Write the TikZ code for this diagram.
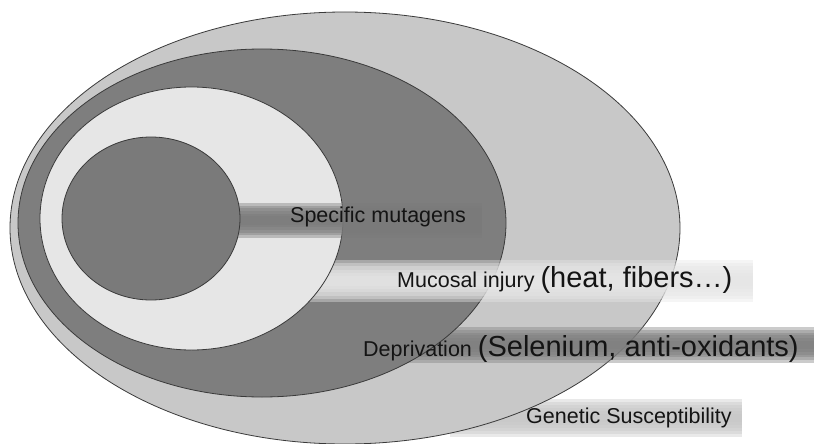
\documentclass[tikz,border=0pt]{standalone}
\usepackage{fontspec}
\setmainfont{Liberation Sans}
\definecolor{outerc}{HTML}{C8C8C8}
\definecolor{darkc}{HTML}{7E7E7E}
\definecolor{lightc}{HTML}{E6E6E6}
\definecolor{innerc}{HTML}{7A7A7A}
\definecolor{edgec}{HTML}{3A3A3A}
\definecolor{txtc}{HTML}{141414}
\newcommand\bandstrip[5]{%
  \foreach \k in {0,...,5}{%
    \pgfmathsetmacro\ins{(#4-#3)*\k/13}%
    \fill[#5, opacity=0.4] ({#1},{#3+\ins}) rectangle ({#2},{#4-\ins});%
  }}
\tikzset{
  ring/.style={draw=edgec, line width=0.8pt},
  lbl/.style={anchor=base west, inner sep=0pt, text=txtc},
  smallf/.style={font=\fontsize{21.5}{24}\selectfont},
}
\newcommand\bigtxt[1]{{\fontsize{29}{32}\selectfont #1}}
\begin{document}
\begin{tikzpicture}[x=1pt,y=-1pt]
\useasboundingbox (0,0) rectangle (814,444);
\fill[white] (0,0) rectangle (814,444);
% genetic band and outer ellipse
\bandstrip{450}{742}{399}{437}{outerc}
\filldraw[ring, fill=outerc] (345,228) ellipse [x radius=335, y radius=216];
% deprivation band and dark ellipse
\bandstrip{400}{814}{327}{363}{darkc}
\filldraw[ring, fill=darkc] (262,223) ellipse [x radius=244, y radius=174];
% mucosal band and light ellipse
\bandstrip{300}{753}{260}{302}{lightc}
\filldraw[ring, fill=lightc] (191.5,218.5) ellipse [x radius=151.5, y radius=131.5];
% specific band and inner ellipse
\bandstrip{200}{482}{203}{238}{innerc}
\filldraw[ring, fill=innerc] (151,218.5) ellipse [x radius=89, y radius=81.5];
% labels
\node[lbl, smallf] (spec) at (290,222) {Specific mutagens};
\node[lbl, smallf] (muc) at (397,287) {Mucosal injury \bigtxt{(heat, fibers…)}};
\node[lbl, smallf] (dep) at (363,356) {Deprivation \bigtxt{(Selenium, anti-oxidants)}};
\node[lbl, smallf] (gen) at (526,423) {Genetic Susceptibility};
\end{tikzpicture}
\end{document}
